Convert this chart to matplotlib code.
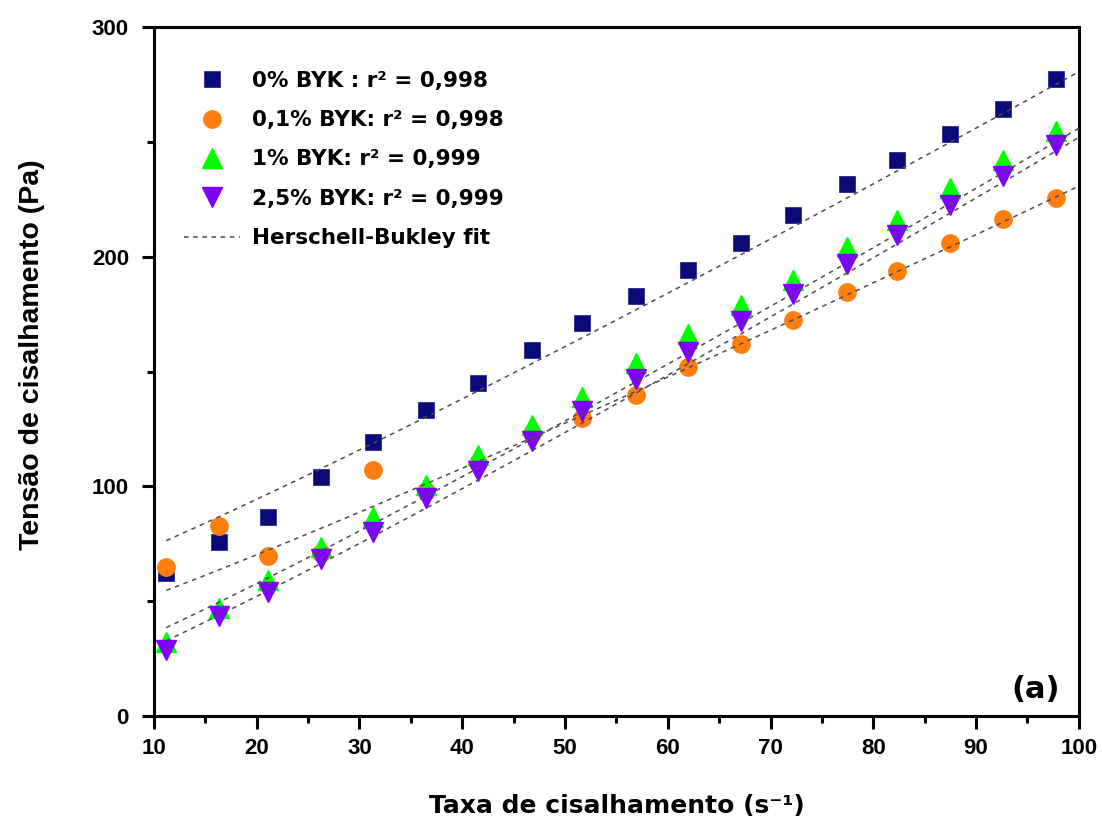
import numpy as np
import matplotlib
matplotlib.use("Agg")
import matplotlib.pyplot as plt
from matplotlib.ticker import MultipleLocator

# shear rate (1/s)
shear_rate = [11.2, 16.3, 21.1, 26.3, 31.3, 36.5, 41.5, 46.8, 51.7,
              56.9, 62.0, 67.1, 72.2, 77.4, 82.3, 87.5, 92.6, 97.8]

# shear stress (Pa) for each BYK content
tau_0 = [62.3, 75.8, 86.6, 104.0, 119.3, 133.2, 145.0, 159.3, 171.1,
         182.8, 194.2, 205.9, 218.1, 231.6, 242.1, 253.4, 264.3, 277.3]
tau_01 = [64.9, 82.7, 69.5, 71.0, 107.0, 97.8, 110.2, 123.2, 129.7,
          139.7, 152.0, 162.0, 172.4, 184.6, 193.7, 205.9, 216.4, 225.5]
tau_1 = [32.2, 47.0, 59.2, 73.6, 86.6, 100.6, 113.6, 126.7, 139.0,
         153.7, 166.3, 178.9, 189.8, 204.2, 215.9, 229.9, 242.1, 255.0]
tau_25 = [28.7, 43.5, 54.0, 68.3, 80.1, 94.9, 106.7, 119.7, 132.8,
          146.7, 158.5, 172.0, 183.7, 196.8, 209.4, 222.5, 235.1, 248.6]

# Herschel-Bulkley parameters: tau0, K, n
hb_params = {
    "0": (56.2, 1.416, 1.1),
    "0.1": (37.3, 1.221, 1.1),
    "1": (17.0, 1.508, 1.1),
    "2.5": (11.1, 1.520, 1.1),
}

labels = ["0% BYK : r² = 0,998", "0,1% BYK: r² = 0,998",
          "1% BYK: r² = 0,999", "2,5% BYK: r² = 0,999"]

plt.rcParams.update({
    "font.family": ["Liberation Sans", "DejaVu Sans"],
    "font.weight": "bold",
})

fig = plt.figure(figsize=(11.02, 8.25), dpi=100)
ax = fig.add_axes([0.1397, 0.1321, 0.8393, 0.8349])

x = np.asarray(shear_rate)
ax.plot(x, tau_0, ls="none", marker="s", ms=11, color="#0a0a78", mec="#2a2a9a", mew=0.6, label=labels[0], zorder=3)
ax.plot(x, tau_01, ls="none", marker="o", ms=12.5, color="#ff7f0e", mec="#ff7f0e", label=labels[1], zorder=3)
ax.plot(x, tau_1, ls="none", marker="^", ms=14, color="#00ff00", mec="#00ff00", label=labels[2], zorder=3)
ax.plot(x, tau_25, ls="none", marker="v", ms=14, color="#8000ff", mec="#8000ff", label=labels[3], zorder=3)

# fit curves
xf = np.linspace(x[0], 100, 200)
for i, key in enumerate(["0", "0.1", "1", "2.5"]):
    t0, K, n = hb_params[key]
    ax.plot(xf, t0 + K * xf ** n, color="0.3", lw=1.1, ls=(0, (3, 3)),
            zorder=4, label="Herschell-Bukley fit" if i == 0 else None)

ax.set_xlim(10, 100)
ax.set_ylim(0, 300)
ax.xaxis.set_major_locator(MultipleLocator(10))
ax.xaxis.set_minor_locator(MultipleLocator(5))
ax.yaxis.set_major_locator(MultipleLocator(100))
ax.yaxis.set_minor_locator(MultipleLocator(50))
ax.tick_params(which="major", direction="out", length=9, width=2.2, labelsize=16)
ax.tick_params(axis="y", which="major", pad=9)
ax.tick_params(axis="x", which="major", pad=7)
ax.tick_params(which="minor", direction="out", length=5, width=2.2)
for sp in ax.spines.values():
    sp.set_linewidth(2.2)

ax.set_xlabel("Taxa de cisalhamento (s⁻¹)", fontsize=18, fontweight="bold",
              family="DejaVu Sans")
ax.xaxis.set_label_coords(0.5, -0.113)
ax.set_ylabel("Tensão de cisalhamento (Pa)", fontsize=20.5, fontweight="bold")
ax.yaxis.set_label_coords(-0.118, 0.524)

ax.text(0.979, 0.026, "(a)", transform=ax.transAxes, ha="right", va="baseline",
        fontsize=22, fontweight="bold", family="DejaVu Sans")

leg = ax.legend(loc="upper left", bbox_to_anchor=(0.0115, 0.965), frameon=False,
                numpoints=1, handlelength=2.6, handletextpad=0.55, labelspacing=0.9,
                prop={"size": 15.5, "weight": "bold", "family": "DejaVu Sans"})

fig.savefig("out.png", dpi=100)
